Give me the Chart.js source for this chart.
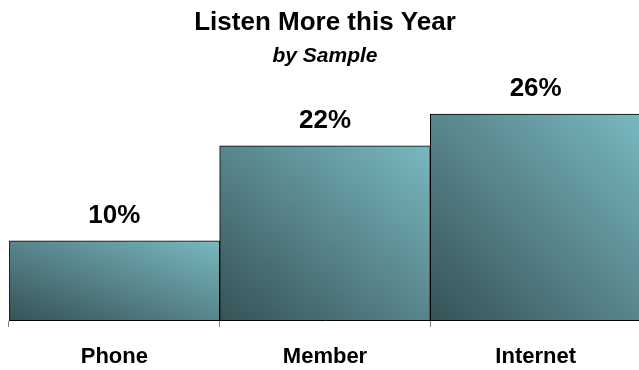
<!DOCTYPE html>
<html>
<head>
<meta charset="utf-8">
<script src="https://cdn.jsdelivr.net/npm/chart.js@4"></script>
<style>
  html, body { margin: 0; padding: 0; background: #fff; overflow: hidden; }
  #wrap { position: relative; width: 645px; height: 370px; }
</style>
</head>
<body>
<div id="wrap"><canvas id="c"></canvas></div>
<script>
const categories = ["Phone", "Member", "Internet"];
const listenMore = [10, 22, 26];
const valueLabels = ["10%", "22%", "26%"];

const FONT = "'Liberation Sans', Arial, sans-serif";

const gradientPlugin = {
  id: 'gradientBars',
  beforeDatasetsDraw(chart) {
    const ctx = chart.ctx;
    chart.getDatasetMeta(0).data.forEach(el => {
      const w = el.width, h = Math.abs(el.base - el.y);
      const cx = el.x, cy = (el.base + el.y) / 2;
      const k = (w * h) / (w * w + h * h);
      const dx = h * k, dy = -w * k;
      const g = ctx.createLinearGradient(cx - dx, cy - dy, cx + dx, cy + dy);
      g.addColorStop(0, 'rgb(54,83,87)');
      g.addColorStop(1, 'rgb(121,184,192)');
      el.options.backgroundColor = g;
    });
  }
};

const labelPlugin = {
  id: 'valueLabels',
  afterDatasetsDraw(chart) {
    const ctx = chart.ctx;
    ctx.save();
    ctx.font = "bold 26px " + FONT;
    ctx.fillStyle = '#000';
    ctx.textAlign = 'center';
    ctx.textBaseline = 'middle';
    chart.getDatasetMeta(0).data.forEach((el, i) => {
      ctx.fillText(valueLabels[i], el.x, el.y - 25);
    });
    ctx.restore();
  }
};

new Chart(document.getElementById('c'), {
  type: 'bar',
  data: {
    labels: categories,
    datasets: [{
      data: listenMore,
      backgroundColor: (c) => 'rgb(90,140,146)',
      borderColor: '#000',
      borderWidth: 1,
      barPercentage: 1,
      categoryPercentage: 1
    }]
  },
  options: {
    responsive: true,
    maintainAspectRatio: false,
    animation: false,
    layout: { padding: { left: 9, right: 4, top: 0, bottom: 0 } },
    plugins: {
      legend: { display: false },
      tooltip: { enabled: false },
      title: {
        display: true,
        text: 'Listen More this Year',
        color: '#000',
        font: { family: FONT, size: 26, weight: 'bold' },
        padding: { top: 7.5, bottom: 5 }
      },
      subtitle: {
        display: true,
        text: 'by Sample',
        color: '#000',
        font: { family: FONT, size: 21, weight: 'bold', style: 'italic' },
        padding: { top: 0, bottom: 13.5 }
      }
    },
    scales: {
      x: {
        afterFit(scale) { scale.height = 50; },
        grid: {
          offset: true,
          drawOnChartArea: false,
          drawTicks: true,
          tickLength: 7,
          color: '#808080',
          lineWidth: 1
        },
        border: { display: true, color: '#000' },
        ticks: {
          color: '#000',
          font: { family: FONT, size: 22, weight: 'bold' },
          padding: 17,
          maxRotation: 0,
          autoSkip: false
        }
      },
      y: {
        display: false,
        min: 0,
        max: 30
      }
    }
  },
  plugins: [gradientPlugin, labelPlugin]
});
</script>
</body>
</html>
